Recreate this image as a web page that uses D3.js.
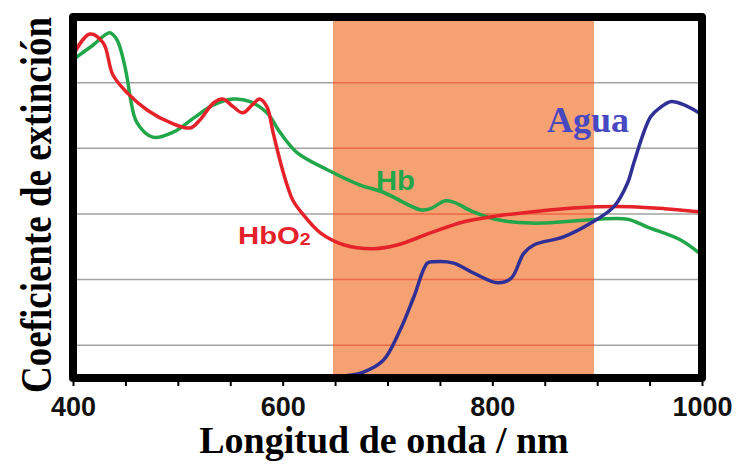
<!DOCTYPE html>
<html>
<head>
<meta charset="utf-8">
<script src="https://cdn.jsdelivr.net/npm/d3@7"></script>
<style>
  html, body { margin: 0; padding: 0; background: #fff; }
  svg { display: block; }
</style>
</head>
<body>
<svg id="chart" width="737" height="466"></svg>
<script>
// Absorption spectra: wavelength (nm) vs. extinction coefficient (arbitrary units)
const hbo2 = [
  [400, 4.42], [416, 4.74], [429, 4.60], [438, 4.12], [452, 3.84], [471, 3.58],
  [493, 3.39], [512, 3.31], [521, 3.43], [534, 3.69], [543, 3.75], [553, 3.63],
  [562, 3.54], [571, 3.66], [578, 3.75], [585, 3.63], [591, 3.23], [598, 2.78],
  [604, 2.45], [610, 2.20], [618, 2.02], [636, 1.71], [658, 1.53], [687, 1.47],
  [710, 1.53], [741, 1.71], [773, 1.88], [805, 1.97], [837, 2.03], [868, 2.08],
  [901, 2.11], [932, 2.11], [964, 2.08], [1000, 2.03]
];
const hb = [
  [400, 4.35], [419, 4.57], [435, 4.76], [442, 4.65], [448, 4.35], [452, 4.04],
  [455, 3.74], [461, 3.39], [476, 3.17], [496, 3.25], [515, 3.46], [534, 3.66],
  [553, 3.75], [569, 3.71], [585, 3.54], [598, 3.23], [614, 2.93], [643, 2.67],
  [674, 2.44], [696, 2.33], [732, 2.06], [741, 2.08], [755, 2.20], [763, 2.18],
  [782, 2.03], [805, 1.91], [837, 1.86], [868, 1.88], [901, 1.92], [929, 1.92],
  [948, 1.80], [980, 1.60], [1000, 1.37]
];
const agua = [
  [658, -0.47], [677, -0.41], [696, -0.23], [712, 0.23], [725, 0.73], [738, 1.25],
  [744, 1.27], [763, 1.25], [782, 1.10], [805, 0.95], [818, 1.02], [830, 1.40],
  [840, 1.53], [868, 1.65], [894, 1.86], [916, 2.11], [929, 2.47], [935, 2.78],
  [951, 3.48], [961, 3.63], [970, 3.71], [983, 3.66], [1000, 3.51]
];
const gridValues = [0, 1, 2, 3, 4];
const tickValues = d3.range(400, 1001, 50);
const labelValues = [400, 600, 800, 1000];
const windowBand = [648, 897];

const svg = d3.select("#chart");
const x = d3.scaleLinear().domain([400, 1000]).range([73, 702]);
const y = d3.scaleLinear().domain([-0.5, 5]).range([378, 17]);

svg.append("rect").attr("width", 737).attr("height", 466).attr("fill", "#fff");

svg.append("defs").append("clipPath").attr("id", "plot")
  .append("rect")
  .attr("x", x(400)).attr("y", y(5))
  .attr("width", x(1000) - x(400)).attr("height", y(-0.5) - y(5));

// horizontal grid
svg.append("g").selectAll("line").data(gridValues).join("line")
  .attr("x1", x(400)).attr("x2", x(1000))
  .attr("y1", d => y(d)).attr("y2", d => y(d))
  .attr("stroke", "#a3a3a3").attr("stroke-width", 1.5);

// optical window band
svg.append("rect")
  .attr("x", x(windowBand[0])).attr("y", y(5))
  .attr("width", x(windowBand[1]) - x(windowBand[0]))
  .attr("height", y(-0.5) - y(5))
  .attr("fill", "#f5a172");

svg.append("g").selectAll("line").data(gridValues).join("line")
  .attr("x1", x(windowBand[0])).attr("x2", x(windowBand[1]))
  .attr("y1", d => y(d)).attr("y2", d => y(d))
  .attr("stroke", "#ec6a45").attr("stroke-width", 1.5);

// spectra
const line = d3.line()
  .x(d => x(d[0])).y(d => y(d[1]))
  .curve(d3.curveCatmullRom.alpha(0.5));

const curves = svg.append("g").attr("clip-path", "url(#plot)");
[[hb, "#22a64a"], [hbo2, "#e52229"], [agua, "#2f2f96"]].forEach(([data, color]) => {
  curves.append("path").datum(data)
    .attr("d", line)
    .attr("fill", "none")
    .attr("stroke", color)
    .attr("stroke-width", 3.5)
    .attr("stroke-linejoin", "round")
    .attr("stroke-linecap", "round");
});

// series labels
svg.append("text")
  .attr("transform", "translate(376,190) scale(1.08,1)")
  .attr("font-family", "Liberation Sans, Arial, sans-serif")
  .attr("font-weight", "bold").attr("font-size", 27)
  .attr("fill", "#22a64a").text("Hb");

const hbo2Label = svg.append("text")
  .attr("transform", "translate(238,244) scale(1.22,1)")
  .attr("font-family", "Liberation Sans, Arial, sans-serif")
  .attr("font-weight", "bold").attr("font-size", 24)
  .attr("fill", "#e52229");
hbo2Label.append("tspan").text("HbO");
hbo2Label.append("tspan").attr("font-size", 16).attr("dy", 1).text("2");

svg.append("text")
  .attr("x", 547).attr("y", 132)
  .attr("font-family", "Liberation Serif, Times New Roman, serif")
  .attr("font-weight", "bold").attr("font-size", 36)
  .attr("fill", "#4848c0").text("Agua");

// frame
svg.append("rect")
  .attr("x", x(400)).attr("y", y(5))
  .attr("width", x(1000) - x(400)).attr("height", y(-0.5) - y(5))
  .attr("fill", "none").attr("stroke", "#000").attr("stroke-width", 8)
  .attr("stroke-linejoin", "round");

// x axis
const xAxis = svg.append("g")
  .attr("transform", `translate(0,${y(-0.5) + 4})`)
  .call(d3.axisBottom(x).tickValues(tickValues).tickSize(4)
    .tickFormat(d => labelValues.includes(d) ? d : ""));
xAxis.select(".domain").remove();
xAxis.selectAll(".tick line").attr("stroke", "#000").attr("stroke-width", 2);
xAxis.selectAll(".tick text")
  .attr("y", 34).attr("dy", null)
  .attr("font-family", "Liberation Sans, Arial, sans-serif")
  .attr("font-weight", "bold").attr("font-size", 27)
  .attr("fill", "#111");

// axis titles
svg.append("text")
  .attr("x", 384).attr("y", 453)
  .attr("text-anchor", "middle")
  .attr("font-family", "Liberation Serif, Times New Roman, serif")
  .attr("font-weight", "bold").attr("font-size", 38)
  .attr("fill", "#000").text("Longitud de onda / nm");

svg.append("text")
  .attr("transform", "translate(51,205) rotate(-90) scale(1,1.2)")
  .attr("text-anchor", "middle")
  .attr("font-family", "Liberation Serif, Times New Roman, serif")
  .attr("font-weight", "bold").attr("font-size", 37)
  .attr("fill", "#000").text("Coeficiente de extinción");
</script>
</body>
</html>
